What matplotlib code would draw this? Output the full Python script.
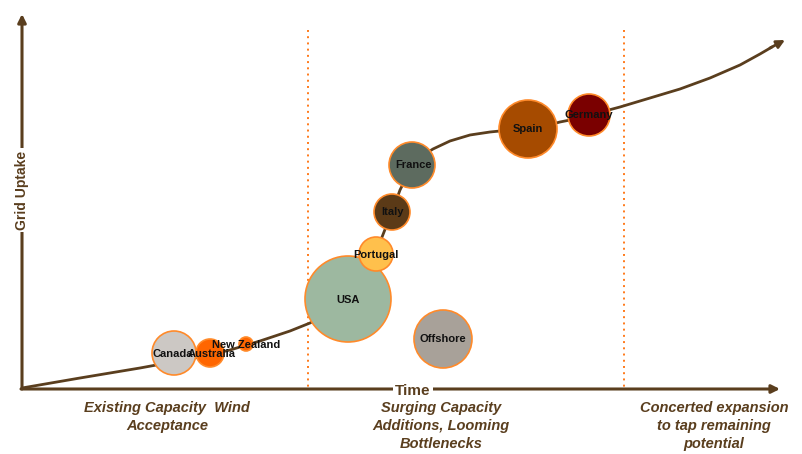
import matplotlib.pyplot as plt
from matplotlib.patches import Circle

plt.rcParams['font.family'] = ['Liberation Sans', 'DejaVu Sans']

# bubbles: centre x, centre y, radius, fill (canvas pixel units)
names = ['Canada', 'Australia', 'New Zealand', 'USA', 'Offshore',
         'Portugal', 'Italy', 'France', 'Spain', 'Germany']
bx = [174, 210, 246, 348, 443, 376, 392, 412, 528, 589]
by = [353, 353, 344, 299, 339, 254, 212, 165, 129, 115]
br = [22, 14, 7, 43, 29, 17, 18, 23, 29, 21]
fills = ['#CCC8C4', '#FF6600', '#FF6600', '#9DB8A0', '#A8A199',
         '#FFC04C', '#5B3A17', '#5D6B5F', '#A64B00', '#7A0000']
label_x = [173, 212, 246, 348, 443, 376, 392, 413, 528, 589]
label_y = [354, 354, 345, 300, 339, 255, 212, 165, 129, 115]

# growth curve traced through the markets
cx = [22, 80, 140, 200, 230, 260, 290, 310, 325, 340, 352, 362, 370,
      377, 384, 392, 400, 407, 413, 422, 433, 450, 470, 490, 510, 528,
      545, 560, 575, 589, 605, 620, 650, 680, 710, 740, 760, 772]
cy = [388, 378, 368, 357, 350, 341, 331, 323, 315, 303, 290, 277, 264,
      250, 232, 212, 190, 176, 165, 156, 149, 141, 135, 132, 130, 129,
      126, 122, 119, 115, 111, 107, 98, 89, 78, 65, 54, 47]

phases = ['Existing Capacity  Wind\nAcceptance',
          'Surging Capacity\nAdditions, Looming\nBottlenecks',
          'Concerted expansion\nto tap remaining\npotential']
phase_x = [167, 441, 714]
dividers = [308, 624]

brown = '#5A3E1E'
edge = '#FF8A2A'

fig = plt.figure(figsize=(8.02, 4.54), dpi=100)
ax = fig.add_axes([0, 0, 1, 1])
ax.set_xlim(0, 802)
ax.set_ylim(454, 0)
ax.axis('off')

# axes arrows
ax.annotate('', xy=(22, 14), xytext=(22, 389),
            arrowprops=dict(arrowstyle='-|>', color=brown, lw=2.2,
                            mutation_scale=12, shrinkA=0, shrinkB=0))
ax.annotate('', xy=(780, 389), xytext=(21, 389),
            arrowprops=dict(arrowstyle='-|>', color=brown, lw=2.2,
                            mutation_scale=12, shrinkA=0, shrinkB=0))
ax.text(22, 190, 'Grid Uptake', rotation=90, ha='center', va='center',
        fontsize=10, fontweight='bold', color=brown,
        bbox=dict(facecolor='white', edgecolor='none', pad=2))
ax.text(413, 391, 'Time', ha='center', va='center', fontsize=11,
        fontweight='bold', color=brown,
        bbox=dict(facecolor='white', edgecolor='none', pad=1.5))

for d in dividers:
    ax.plot([d, d], [30, 388], color='#FF7A1A', lw=1.4, ls=(0, (1, 2.2)), zorder=1)

ax.plot(cx, cy, color=brown, lw=2, zorder=2, solid_capstyle='round',
        solid_joinstyle='round')
ax.annotate('', xy=(785, 40), xytext=(770, 48),
            arrowprops=dict(arrowstyle='-|>', color=brown, lw=2,
                            mutation_scale=12, shrinkA=0, shrinkB=0))

for x, y, r, c in zip(bx, by, br, fills):
    ax.add_patch(Circle((x, y), r, facecolor=c, edgecolor=edge, lw=1.2, zorder=3))
for n, x, y in zip(names, label_x, label_y):
    ax.text(x, y, n, ha='center', va='center', fontsize=8, fontweight='bold',
            color='#111111', zorder=4)

for t, x in zip(phases, phase_x):
    ax.text(x, 401, t, ha='center', va='top', fontsize=10.5, fontweight='bold',
            fontstyle='italic', color=brown, linespacing=1.35)

fig.savefig('out.png', dpi=100, facecolor='white')
